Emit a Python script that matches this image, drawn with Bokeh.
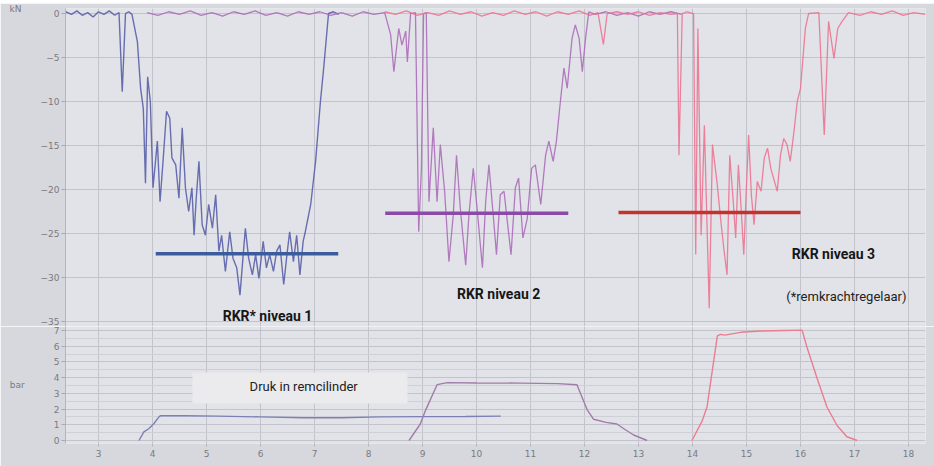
from bokeh.plotting import figure
from bokeh.layouts import column
from bokeh.models import Range1d, FixedTicker, Label, BoxAnnotation, Spacer
from bokeh.embed import file_html
from bokeh.resources import INLINE

# ---------------- data ----------------
x_ticks = list(range(3, 19))
kn_ticks = [0, -5, -10, -15, -20, -25, -30, -35]
bar_ticks = [0, 1, 2, 3, 4, 5, 6, 7]
bar_minor = [0.5, 1.5, 2.5, 3.5, 4.5, 5.5, 6.5]

# force traces (time s, kN)
blue_t = [2.39, 2.5, 2.6, 2.7, 2.8, 2.9, 3.0, 3.1, 3.2, 3.3, 3.38, 3.44, 3.50, 3.56, 3.62,
          3.72, 3.78, 3.83, 3.87, 3.91, 3.96, 4.01, 4.09, 4.14, 4.20, 4.26, 4.32, 4.36, 4.43,
          4.49, 4.55, 4.61, 4.67, 4.73, 4.77, 4.81, 4.86, 4.92, 4.98, 5.04, 5.11, 5.17, 5.23,
          5.28, 5.35, 5.43, 5.49, 5.56, 5.62, 5.68, 5.72, 5.78, 5.85, 5.91, 5.97, 6.05, 6.11,
          6.17, 6.24, 6.30, 6.36, 6.43, 6.49, 6.54, 6.61, 6.67, 6.73, 6.79, 6.83, 6.93, 7.02,
          7.11, 7.17, 7.26, 7.35, 7.45]
blue_kn = [0.2, -0.1, 0.3, -0.2, 0.1, -0.4, 0.2, -0.1, 0.3, -0.2, 0.1, -8.9, 0.0, 0.2, -0.1,
           -3.2, -8.5, -10.8, -19.3, -7.2, -10.0, -19.8, -14.5, -21.4, -16.4, -11.1, -11.9, -16.4, -17.2,
           -21.0, -13.0, -19.8, -22.5, -19.8, -25.2, -21.0, -16.8, -24.0, -25.2, -21.7, -24.4, -20.6, -27.0,
           -25.2, -29.3, -24.8, -27.8, -28.9, -32.0, -27.4, -24.4, -27.8, -29.7, -27.4, -30.1, -25.9, -28.9,
           -27.4, -29.3, -27.0, -26.3, -30.8, -27.4, -24.8, -28.2, -25.2, -29.7, -25.9, -24.8, -21.7, -16.8,
           -10.0, -6.2, 0.0, 0.2, -0.1]

purple_t = [3.9, 4.1, 4.3, 4.5, 4.7, 4.9, 5.1, 5.3, 5.5, 5.7, 5.9, 6.1, 6.3, 6.5, 6.7, 6.9, 7.1,
            7.3, 7.5, 7.7, 7.9, 8.1, 8.3, 8.41, 8.47, 8.56, 8.62, 8.69, 8.72, 8.78, 8.87, 8.93,
            8.98, 9.02, 9.07, 9.12, 9.20, 9.27, 9.33, 9.41, 9.49, 9.57, 9.63, 9.70, 9.80, 9.86,
            9.94, 10.01, 10.11, 10.17, 10.23, 10.31, 10.37, 10.44, 10.51, 10.57, 10.64, 10.72,
            10.78, 10.86, 10.94, 11.02, 11.09, 11.19, 11.28, 11.34, 11.42, 11.48, 11.56, 11.62,
            11.68, 11.77, 11.83, 11.90, 11.96, 12.02, 12.08, 12.2, 12.4, 12.6, 12.8, 13.0, 13.2,
            13.4, 13.6, 13.8]
purple_kn = [0.1, -0.2, 0.2, -0.1, 0.3, -0.2, 0.1, -0.3, 0.2, -0.1, 0.3, -0.2, 0.1, -0.3, 0.2, -0.1, 0.2,
             -0.2, 0.1, -0.3, 0.2, -0.1, 0.1, -2.4, -6.6, -1.7, -3.6, -2.0, -5.5, 0.0, 0.1, -24.8,
             -17.6, 0.0, 0.1, -21.4, -13.0, -21.4, -14.9, -20.2, -28.2, -22.9, -16.1, -22.1, -28.6, -22.9,
             -17.6, -22.1, -28.9, -21.4, -17.2, -22.9, -27.4, -20.6, -20.2, -23.6, -27.4, -19.8,
             -18.7, -25.5, -23.3, -17.6, -17.2, -21.7, -16.1, -14.5, -16.8, -14.5, -9.6, -6.2,
             -8.5, -2.8, -1.3, -2.8, -6.6, -2.8, 0.2, -0.1, 0.2, -0.2, 0.1, -0.3, 0.2,
             -0.1, 0.2, -0.1]

red_t = [8.3, 8.5, 8.7, 8.9, 9.1, 9.3, 9.5, 9.7, 9.9, 10.1, 10.3, 10.5, 10.7, 10.9, 11.1, 11.3,
         11.5, 11.7, 11.9, 12.1, 12.25, 12.35, 12.42, 12.6, 12.8, 13.0, 13.2, 13.4, 13.6, 13.72,
         13.75, 13.81, 13.9, 14.02, 14.06, 14.10, 14.16, 14.22, 14.31, 14.37, 14.46, 14.52, 14.58,
         14.64, 14.69, 14.75, 14.80, 14.85, 14.90, 14.95, 14.99, 15.04, 15.09, 15.14, 15.20, 15.27,
         15.33, 15.39, 15.45, 15.57, 15.63, 15.69, 15.75, 15.81, 15.88, 15.94, 16.00, 16.09, 16.15,
         16.34, 16.44, 16.52, 16.62, 16.69, 16.77, 16.89, 17.1, 17.3, 17.5, 17.7, 17.9, 18.1, 18.31]
red_kn = [0.2, -0.1, 0.3, -0.2, 0.1, -0.2, 0.3, -0.1, 0.2, -0.3, 0.1, -0.2, 0.3, -0.1, 0.2, -0.3,
          0.2, -0.1, 0.3, -0.2, 0.1, -3.5, 0.0, 0.2, -0.1, 0.2, -0.2, 0.1, -0.1, 0.0,
          -16.1, 0.0, 0.2, 0.0, -27.4, -1.7, -25.2, -12.7, -33.5, -14.9, -19.5, -23.3, -26.7,
          -29.7, -16.1, -21.0, -25.5, -17.2, -22.1, -27.4, -21.0, -13.8, -20.6, -24.0, -19.1, -20.2,
          -16.4, -15.3, -17.6, -20.2, -16.1, -14.2, -14.9, -16.8, -13.4, -10.0, -8.5, -1.7, 0.0,
          0.1, -13.8, -0.9, -5.1, -1.7, -0.9, 0.1, -0.2, 0.2, -0.1, 0.3, -0.2, 0.1, -0.1]

# RKR levels (start s, end s, kN)
level_start = [4.06, 8.31, 12.63]
level_end = [7.44, 11.70, 16.00]
level_kn = [-27.3, -22.7, -22.6]

# brake cylinder pressure (time s, bar)
blue_pt = [3.75, 3.84, 3.93, 4.02, 4.12, 4.15, 4.6, 5.2, 6.0, 6.8, 7.5, 8.2, 9.0, 9.8, 10.45]
blue_bar = [0.0, 0.55, 0.75, 1.05, 1.5, 1.58, 1.57, 1.55, 1.5, 1.45, 1.45, 1.5, 1.52, 1.53, 1.55]
purple_pt = [8.75, 8.96, 9.06, 9.27, 9.46, 10.0, 10.8, 11.5, 11.86, 12.05, 12.17, 12.4, 12.6, 12.75, 12.91, 13.16]
purple_bar = [0.0, 1.05, 1.95, 3.55, 3.68, 3.66, 3.65, 3.62, 3.55, 1.95, 1.35, 1.15, 1.05, 0.7, 0.35, 0.0]
red_pt = [13.99, 14.18, 14.27, 14.46, 14.52, 14.6, 14.89, 15.26, 15.7, 16.03, 16.12, 16.31, 16.49, 16.68, 16.86, 17.05]
red_bar = [0.0, 1.25, 2.15, 6.65, 6.75, 6.7, 6.88, 6.96, 7.0, 7.02, 5.93, 3.93, 2.13, 0.94, 0.24, 0.0]

# ---------------- style ----------------
BORDER = "#d7d8dd"
PLOT_BG = "#e2e3e8"
GRID = "#c3c4cb"
TICK_TXT = "#7a7a80"
LABEL_FONT = "Roboto"

x_range = Range1d(2.389, 18.315)


def style_axes(p, label, standoff, align):
    for ax in p.yaxis:
        ax.major_label_text_font_size = "9px"
        ax.major_label_text_color = TICK_TXT
        ax.major_label_text_font = "DejaVu Sans"
        ax.major_tick_out = 4
        ax.major_tick_in = 0
        ax.minor_tick_line_color = None
        ax.major_tick_line_color = "#a8a9b0"
        ax.axis_line_color = "#b4b5bc"
        ax.major_label_standoff = 2
        ax.axis_label = label
        ax.axis_label_orientation = "horizontal"
        ax.axis_label_standoff = standoff
        ax.axis_label_text_font = "DejaVu Sans"
        ax.axis_label_text_font_style = "normal"
        ax.axis_label_text_font_size = "9px"
        ax.axis_label_text_color = TICK_TXT
        if align is not None and "axis_label_align" in ax.properties():
            ax.axis_label_align = align
    p.xgrid.ticker = FixedTicker(ticks=x_ticks)
    p.xgrid.grid_line_color = GRID


p1 = figure(width=934, height=323, x_range=x_range, y_range=Range1d(-35.57, 0.57),
            x_axis_location=None, output_backend="svg", toolbar_location=None,
            min_border_left=65, min_border_right=9, min_border_top=5, min_border_bottom=0,
            background_fill_color=PLOT_BG, border_fill_color=BORDER, outline_line_color=None)
p1.yaxis.ticker = FixedTicker(ticks=kn_ticks)
p1.ygrid.ticker = FixedTicker(ticks=kn_ticks)
p1.ygrid.grid_line_color = GRID
style_axes(p1, "kN", 16, "end")

p1.line(blue_t, blue_kn, line_color="#5a60a8", line_width=1.4, line_alpha=0.9)
p1.line(purple_t, purple_kn, line_color="#a866b6", line_width=1.3, line_alpha=0.85)
p1.line(red_t, red_kn, line_color="#ec6f8c", line_width=1.3, line_alpha=0.85)
level_colors = ["#3a5c9c", "#8c4aa8", "#c3322c"]
p1.segment(x0=level_start, y0=level_kn, x1=level_end, y1=level_kn,
           line_color=level_colors, line_width=3.5)

bold_kw = dict(text_font=LABEL_FONT, text_font_style="bold", text_font_size="14px",
               text_color="#161616", text_align="center", text_baseline="middle")
p1.add_layout(Label(x=6.13, y=-34.4, text="RKR* niveau 1", **bold_kw))
p1.add_layout(Label(x=10.41, y=-31.9, text="RKR niveau 2", **bold_kw))
p1.add_layout(Label(x=16.61, y=-27.3, text="RKR niveau 3", **bold_kw))
p1.add_layout(Label(x=16.85, y=-32.2, text="(*remkrachtregelaar)", text_font=LABEL_FONT,
                    text_font_size="13px", text_color="#222222", text_align="center",
                    text_baseline="middle"))

p2 = figure(width=934, height=140, x_range=x_range, y_range=Range1d(-0.19, 7.25),
            output_backend="svg", toolbar_location=None,
            min_border_left=65, min_border_right=9, min_border_top=0, min_border_bottom=23,
            background_fill_color=PLOT_BG, border_fill_color=BORDER, outline_line_color=None)
p2.yaxis.ticker = FixedTicker(ticks=bar_ticks)
p2.ygrid.ticker = FixedTicker(ticks=bar_ticks, minor_ticks=bar_minor)
p2.ygrid.grid_line_color = GRID
p2.ygrid.minor_grid_line_color = "#cfd0d6"
style_axes(p2, "bar", 26, None)
p2.xaxis.ticker = FixedTicker(ticks=x_ticks)
p2.xaxis.major_label_text_font_size = "9px"
p2.xaxis.major_label_text_color = TICK_TXT
p2.xaxis.major_label_text_font = "DejaVu Sans"
p2.xaxis.major_tick_out = 3
p2.xaxis.major_tick_in = 0
p2.xaxis.minor_tick_line_color = None
p2.xaxis.major_tick_line_color = "#b4b5bc"
p2.xaxis.axis_line_color = None
p2.xaxis.major_label_standoff = 3

p2.add_layout(BoxAnnotation(left=4.74, right=8.72, bottom=2.35, top=4.32,
                            fill_color="#ebebee", fill_alpha=1.0, line_color=None,
                            level="underlay"))
p2.line(blue_pt, blue_bar, line_color="#7c80b4", line_width=1.4)
p2.line(purple_pt, purple_bar, line_color="#a07ca8", line_width=1.4)
p2.line(red_pt, red_bar, line_color="#ea7d90", line_width=1.4)

p2.add_layout(Label(x=6.80, y=3.43, text="Druk in remcilinder", text_font=LABEL_FONT,
                    text_font_size="13px", text_color="#222222", text_align="center",
                    text_baseline="middle"))

layout = column(Spacer(width=934, height=3), p1, p2, spacing=0)
open("out.html", "w").write(file_html(layout, INLINE))
